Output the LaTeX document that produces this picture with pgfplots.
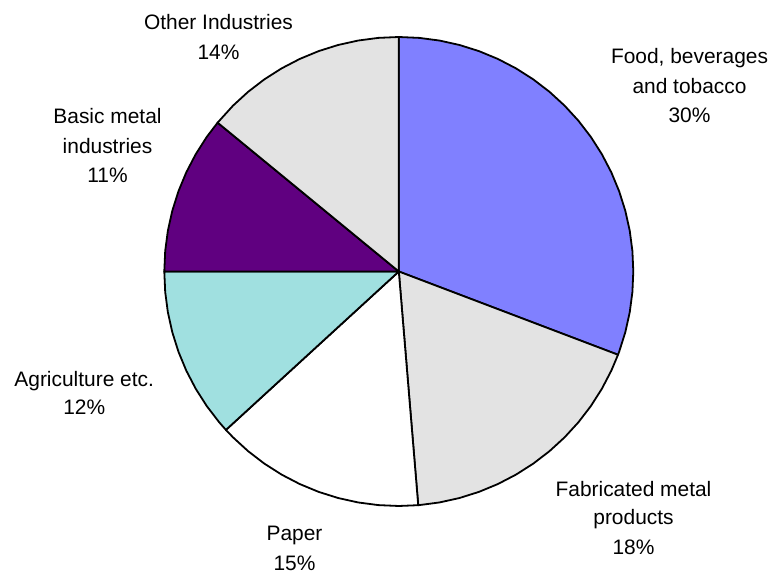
\documentclass[border=0pt]{standalone}
\usepackage{pgfplots}
\pgfplotsset{compat=1.18}
\usepackage{fontspec}
\setmainfont{Liberation Sans}
\definecolor{food}{HTML}{8080FF}
\definecolor{fab}{HTML}{E3E3E3}
\definecolor{agri}{HTML}{A0E0E0}
\definecolor{basic}{HTML}{600080}
\definecolor{other}{HTML}{E3E3E3}
\tikzset{lbl/.style={anchor=base, inner sep=0pt, font=\fontsize{21}{25}\selectfont}}
\begin{document}
\begin{tikzpicture}
\begin{axis}[
  width=773bp, height=573bp, scale only axis,
  xmin=-398.8, xmax=374.2, ymin=-301.5, ymax=271.5,
  hide axis, clip=false,
  every axis plot/.append style={data cs=polar, draw=black, line width=1.8bp, line join=round, mark=none},
]
% Food, beverages and tobacco 30.8%
\addplot[fill=food] coordinates {(0,0) (90,234.5) (85,234.5) (80,234.5) (75,234.5) (70,234.5) (65,234.5) (60,234.5) (55,234.5) (50,234.5) (45,234.5) (40,234.5) (35,234.5) (30,234.5) (25,234.5) (20,234.5) (15,234.5) (10,234.5) (5,234.5) (0,234.5) (-5,234.5) (-10,234.5) (-15,234.5) (-20,234.5) (-20.8,234.5) (0,0)};
% Fabricated metal products 17.9%
\addplot[fill=fab] coordinates {(0,0) (-20.8,234.5) (-25,234.5) (-30,234.5) (-35,234.5) (-40,234.5) (-45,234.5) (-50,234.5) (-55,234.5) (-60,234.5) (-65,234.5) (-70,234.5) (-75,234.5) (-80,234.5) (-85,234.5) (-85.25,234.5) (0,0)};
% Paper 14.5%
\addplot[fill=white] coordinates {(0,0) (-85.25,234.5) (-90,234.5) (-95,234.5) (-100,234.5) (-105,234.5) (-110,234.5) (-115,234.5) (-120,234.5) (-125,234.5) (-130,234.5) (-135,234.5) (-137.5,234.5) (0,0)};
% Agriculture etc. 11.8%
\addplot[fill=agri] coordinates {(0,0) (-137.5,234.5) (-140,234.5) (-145,234.5) (-150,234.5) (-155,234.5) (-160,234.5) (-165,234.5) (-170,234.5) (-175,234.5) (-180,234.5) (0,0)};
% Basic metal industries 10.9%
\addplot[fill=basic] coordinates {(0,0) (180,234.5) (175,234.5) (170,234.5) (165,234.5) (160,234.5) (155,234.5) (150,234.5) (145,234.5) (140.6,234.5) (0,0)};
% Other Industries 14.1%
\addplot[fill=other] coordinates {(0,0) (140.6,234.5) (135,234.5) (130,234.5) (125,234.5) (120,234.5) (115,234.5) (110,234.5) (105,234.5) (100,234.5) (95,234.5) (90,234.5) (0,0)};

% labels (x = px - 398.8, y = 271.5 - px)
\node[lbl] at (axis cs:-180.3,242.2) {Other Industries};
\node[lbl] at (axis cs:-180.3,212.2) {14\%};
\node[lbl] at (axis cs:290.7,207.5) {Food, beverages};
\node[lbl] at (axis cs:290.7,178.2) {and tobacco};
\node[lbl] at (axis cs:290.7,148.8) {30\%};
\node[lbl] at (axis cs:-291.3,148.2) {Basic metal};
\node[lbl] at (axis cs:-291.3,118.2) {industries};
\node[lbl] at (axis cs:-291.3,88.5) {11\%};
\node[lbl] at (axis cs:-314.6,-115.2) {Agriculture etc.};
\node[lbl] at (axis cs:-314.6,-143.5) {12\%};
\node[lbl] at (axis cs:-104.3,-269.5) {Paper};
\node[lbl] at (axis cs:-104.3,-299.0) {15\%};
\node[lbl] at (axis cs:234.7,-225.2) {Fabricated metal};
\node[lbl] at (axis cs:234.7,-253.5) {products};
\node[lbl] at (axis cs:234.7,-283.5) {18\%};
\coordinate (SW) at (rel axis cs:0,0);
\coordinate (NE) at (rel axis cs:1,1);
\end{axis}
\pgfresetboundingbox
\path (SW) rectangle (NE);
\end{tikzpicture}
\end{document}
